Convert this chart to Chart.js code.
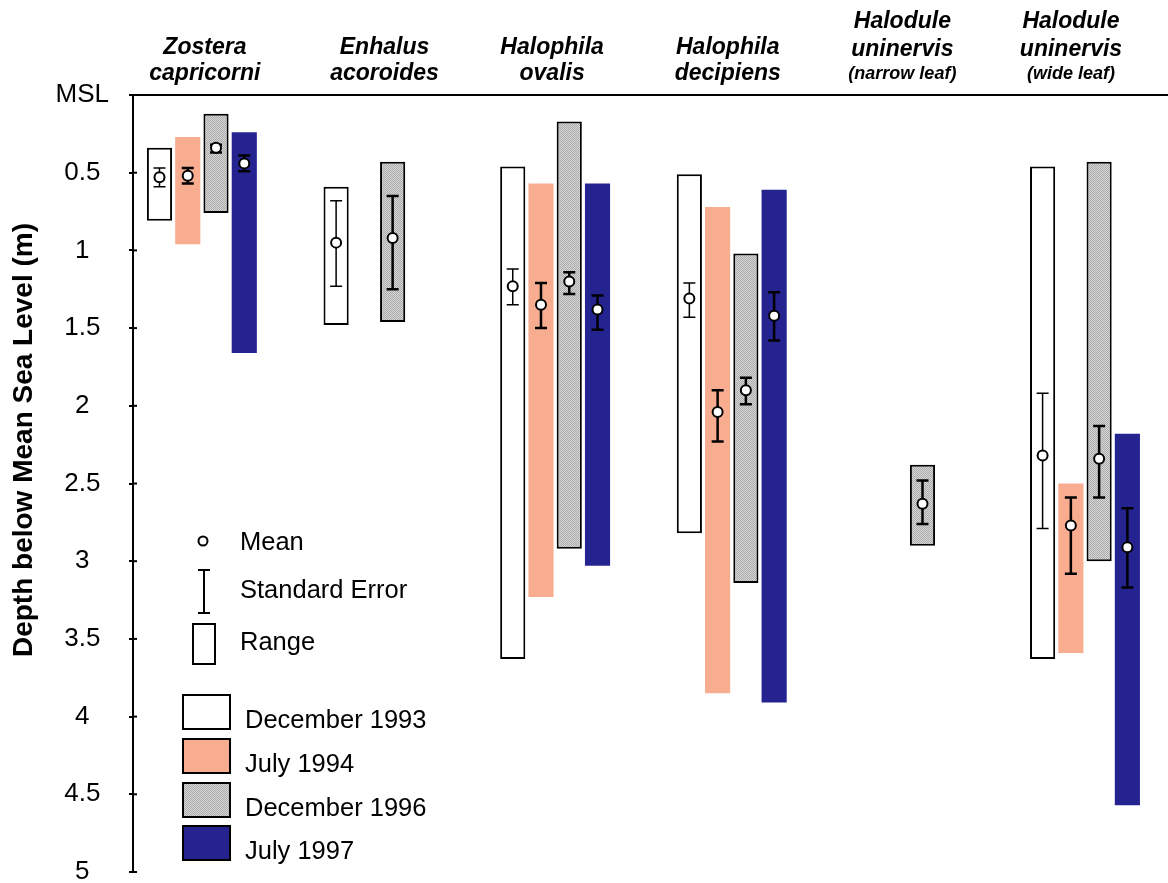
<!DOCTYPE html>
<html>
<head>
<meta charset="utf-8">
<script src="https://cdn.jsdelivr.net/npm/chart.js@4.4.1/dist/chart.umd.min.js"></script>
<style>
  html, body { margin: 0; padding: 0; background: #fff; }
</style>
</head>
<body>
<canvas id="depthChart" width="1168" height="883"></canvas>
<script>
// species names, one entry per printed line
const species = [
    ['Zostera', 'capricorni'],
    ['Enhalus', 'acoroides'],
    ['Halophila', 'ovalis'],
    ['Halophila', 'decipiens'],
    ['Halodule', 'uninervis', '(narrow leaf)'],
    ['Halodule', 'uninervis', '(wide leaf)']
];
const surveys = ['December 1993', 'July 1994', 'December 1996', 'July 1997'];
const depthTicks = [0, 0.5, 1, 1.5, 2, 2.5, 3, 3.5, 4, 4.5, 5];

// depth range [shallowest, deepest], m below MSL
const rangeDec93 = [[0.34, 0.81], [0.59, 1.48], [0.46, 3.63], [0.51, 2.82], null, [0.46, 3.63]];
const rangeJul94 = [[0.27, 0.96], null, [0.57, 3.23], [0.72, 3.85], null, [2.50, 3.59]];
const rangeDec96 = [[0.12, 0.76], [0.43, 1.46], [0.17, 2.92], [1.02, 3.14], [2.38, 2.90], [0.43, 3.00]];
const rangeJul97 = [[0.24, 1.66], null, [0.57, 3.03], [0.61, 3.91], null, [2.18, 4.57]];

// mean depth
const meanDec93 = [0.53, 0.95, 1.23, 1.31, null, 2.32];
const meanJul94 = [0.52, null, 1.35, 2.04, null, 2.77];
const meanDec96 = [0.34, 0.92, 1.20, 1.90, 2.63, 2.34];
const meanJul97 = [0.44, null, 1.38, 1.42, null, 2.91];

// standard error bounds
const seDec93 = [[0.47, 0.59], [0.68, 1.23], [1.12, 1.35], [1.21, 1.43], null, [1.92, 2.79]];
const seJul94 = [[0.47, 0.57], null, [1.21, 1.50], [1.90, 2.23], null, [2.59, 3.08]];
const seDec96 = [[0.32, 0.37], [0.65, 1.25], [1.14, 1.28], [1.82, 1.99], [2.48, 2.76], [2.13, 2.59]];
const seJul97 = [[0.39, 0.49], null, [1.29, 1.51], [1.27, 1.58], null, [2.66, 3.17]];

const canvas = document.getElementById('depthChart');
const ctx0 = canvas.getContext('2d');

// fine dotted grey fill like the original
function dotPattern() {
    const c = document.createElement('canvas');
    c.width = 2; c.height = 2;
    const g = c.getContext('2d');
    g.fillStyle = '#d6d6d6';
    g.fillRect(0, 0, 2, 2);
    g.fillStyle = '#ababab';
    g.fillRect(0, 0, 1, 1);
    g.fillRect(1, 1, 1, 1);
    return ctx0.createPattern(c, 'repeat');
}
const grey = dotPattern();
const fills = ['#ffffff', '#f8ad91', grey, '#25238f'];
const borders = [2, 0, 2, 0];
const errWidth = [1.5, 2.5, 2.5, 2.5];
// small nudges so the species titles sit where the original put them
const labelShift = [3, 6, -3, -4, -6, -14];

const FONT = '"Liberation Sans", Arial, sans-serif';

const overlay = {
    id: 'overlay',
    afterDatasetsDraw(chart) {
        const ctx = chart.ctx;
        const y = chart.scales.y;
        chart.data.datasets.forEach((ds, i) => {
            const meta = chart.getDatasetMeta(i);
            meta.data.forEach((bar, j) => {
                const m = ds.means[j];
                const se = ds.se[j];
                if (m == null) return;
                const x = bar.x;
                const y0 = y.getPixelForValue(se[0]);
                const y1 = y.getPixelForValue(se[1]);
                ctx.save();
                ctx.strokeStyle = '#000';
                ctx.lineWidth = errWidth[i];
                ctx.beginPath();
                ctx.moveTo(x, y0); ctx.lineTo(x, y1);
                ctx.moveTo(x - 6, y0); ctx.lineTo(x + 6, y0);
                ctx.moveTo(x - 6, y1); ctx.lineTo(x + 6, y1);
                ctx.stroke();
                ctx.lineWidth = 2;
                ctx.beginPath();
                ctx.arc(x, y.getPixelForValue(m), 5, 0, Math.PI * 2);
                ctx.fillStyle = '#fff';
                ctx.fill();
                ctx.stroke();
                ctx.restore();
            });
        });
    },
    afterDraw(chart) {
        const ctx = chart.ctx;
        const area = chart.chartArea;
        const x = chart.scales.x;
        const y = chart.scales.y;
        ctx.save();
        ctx.fillStyle = '#000';
        ctx.strokeStyle = '#000';

        // inner half of the y ticks
        ctx.lineWidth = 2;
        y.ticks.forEach(t => {
            const py = y.getPixelForValue(t.value);
            ctx.beginPath();
            ctx.moveTo(area.left, py);
            ctx.lineTo(area.left + 4, py);
            ctx.stroke();
        });

        // species labels above the top axis
        ctx.textAlign = 'center';
        ctx.textBaseline = 'alphabetic';
        species.forEach((lines, i) => {
            const cx = x.getPixelForValue(i) + labelShift[i];
            const base = lines.length === 2 ? [54, 80] : [28, 56, 79];
            lines.forEach((txt, k) => {
                ctx.font = (k === 2 ? 'italic bold 18px ' : 'italic bold 23px ') + FONT;
                ctx.fillText(txt, cx, base[k]);
            });
        });

        // y title
        ctx.save();
        ctx.translate(24, 440);
        ctx.rotate(-Math.PI / 2);
        ctx.font = 'bold 28px ' + FONT;
        ctx.textBaseline = 'middle';
        ctx.fillText('Depth below Mean Sea Level (m)', 0, 0);
        ctx.restore();

        // symbol key
        ctx.textAlign = 'left';
        ctx.textBaseline = 'middle';
        ctx.font = '25.5px ' + FONT;
        ctx.lineWidth = 2;
        ctx.beginPath();
        ctx.arc(203, 541, 4.5, 0, Math.PI * 2);
        ctx.stroke();
        ctx.fillText('Mean', 240, 543);

        ctx.beginPath();
        ctx.moveTo(204, 570); ctx.lineTo(204, 613);
        ctx.moveTo(198, 570); ctx.lineTo(210, 570);
        ctx.moveTo(198, 613); ctx.lineTo(210, 613);
        ctx.stroke();
        ctx.fillText('Standard Error', 240, 591);

        ctx.strokeRect(193, 624, 22, 40);
        ctx.fillText('Range', 240, 643);

        // survey key
        const boxTop = [695, 739, 783, 826];
        surveys.forEach((s, i) => {
            ctx.fillStyle = fills[i];
            ctx.fillRect(183, boxTop[i], 47, 34);
            ctx.strokeRect(183, boxTop[i], 47, 34);
            ctx.fillStyle = '#000';
            ctx.fillText(s, 245, boxTop[i] + 26);
        });
        ctx.restore();
    }
};

const ranges = [rangeDec93, rangeJul94, rangeDec96, rangeJul97];
const means = [meanDec93, meanJul94, meanDec96, meanJul97];
const ses = [seDec93, seJul94, seDec96, seJul97];

new Chart(ctx0, {
    type: 'bar',
    data: {
        datasets: surveys.map((s, i) => ({
            label: s,
            data: ranges[i].map((r, j) => ({ x: j, y: r })),
            means: means[i],
            se: ses[i],
            backgroundColor: fills[i],
            borderColor: '#000',
            borderWidth: borders[i],
            borderSkipped: false,
            barPercentage: 0.89,
            categoryPercentage: 0.64
        }))
    },
    options: {
        responsive: false,
        animation: false,
        devicePixelRatio: 1,
        layout: { padding: { top: 95, bottom: 11, left: 0, right: 0 } },
        plugins: {
            legend: { display: false },
            tooltip: { enabled: false }
        },
        scales: {
            x: {
                type: 'linear',
                position: 'top',
                offset: false,
                // species index axis; the groups are not centred in the original
                min: -0.39,
                max: 5.47,
                afterBuildTicks(scale) {
                    scale.ticks = species.map((s, i) => ({ value: i }));
                },
                ticks: { display: false },
                grid: { display: false, drawTicks: false },
                border: { display: true, color: '#000', width: 2 },
                afterFit(scale) { scale.height = 0; }
            },
            y: {
                reverse: true,
                min: 0,
                max: 5,
                afterBuildTicks(scale) {
                    scale.ticks = depthTicks.map(v => ({ value: v }));
                },
                ticks: {
                    callback: v => (v === 0 ? 'MSL' : String(v)),
                    font: { family: FONT, size: 26 },
                    color: '#000',
                    padding: 20,
                    crossAlign: 'center'
                },
                grid: {
                    drawOnChartArea: false,
                    tickLength: 4,
                    color: '#000',
                    lineWidth: 2
                },
                border: { display: true, color: '#000', width: 2 },
                afterFit(scale) {
                    scale.width = 133;
                    scale.paddingTop = 0;
                    scale.paddingBottom = 0;
                }
            }
        }
    },
    plugins: [overlay]
});
</script>
</body>
</html>
